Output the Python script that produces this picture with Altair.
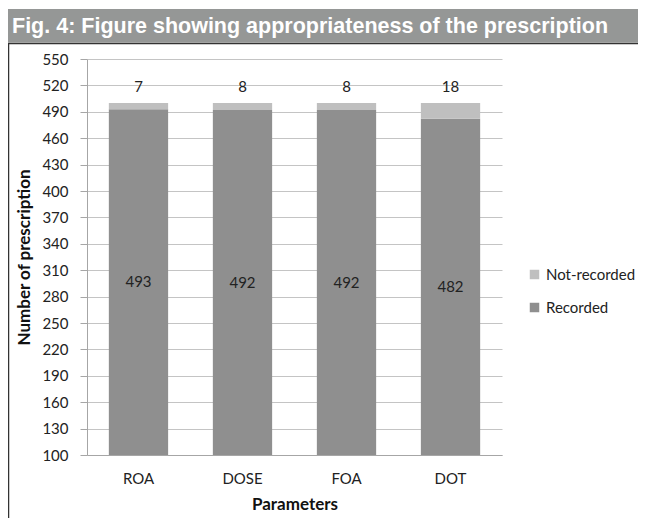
import altair as alt
import pandas as pd

params = ["ROA", "DOSE", "FOA", "DOT"]
recorded = [493, 492, 492, 482]
not_recorded = [7, 8, 8, 18]
y_ticks = list(range(100, 551, 30))
title_text = "Fig. 4: Figure showing appropriateness of the prescription"

rows = []
for p, r, n in zip(params, recorded, not_recorded):
    rows.append({"Parameter": p, "Status": "Recorded", "Count": r, "ord": 0})
    rows.append({"Parameter": p, "Status": "Not-recorded", "Count": n, "ord": 1})
df = pd.DataFrame(rows)

lab_rec = pd.DataFrame({"Parameter": params, "Count": recorded,
                        "mid": [(100 + r) / 2 for r in recorded]})
lab_not = pd.DataFrame({"Parameter": params, "Count": not_recorded,
                        "total": [r + n for r, n in zip(recorded, not_recorded)]})

FONT = "Lato"
W, H = 415, 396

xscale = alt.Scale(paddingInner=0.43, paddingOuter=0.21)
xaxis = alt.Axis(title="Parameters", labelAngle=0, ticks=False,
                 labelPadding=16, titlePadding=10,
                 domainColor="#a6a6a6", labelFontSize=15,
                 labelColor="#222222", titleFontSize=17,
                 titleFontWeight="bold", titleColor="#111111",
                 labelFont=FONT, titleFont=FONT)
yscale = alt.Scale(domain=[100, 550], nice=False, zero=False)
yaxis = alt.Axis(title="Number of prescription", values=y_ticks,
                 labelOverlap=False, labelBound=False,
                 tickSize=7, tickColor="#a6a6a6", domainColor="#a6a6a6",
                 gridColor="#c4c4c4", labelPadding=12, titlePadding=8,
                 labelFontSize=15, labelColor="#222222",
                 titleFontSize=17, titleFontWeight="bold",
                 titleColor="#111111", labelFont=FONT, titleFont=FONT)

bars = alt.Chart(df).mark_bar(clip=True).encode(
    x=alt.X("Parameter:N", sort=params, scale=xscale, axis=xaxis),
    y=alt.Y("Count:Q", stack="zero", scale=yscale, axis=yaxis),
    color=alt.Color("Status:N",
                    scale=alt.Scale(domain=["Not-recorded", "Recorded"],
                                    range=["#bfbfbf", "#8f8f8f"]),
                    legend=alt.Legend(title=None, orient="none", legendX=440,
                                      legendY=208, symbolType="square",
                                      symbolSize=90, symbolStrokeWidth=0,
                                      labelFontSize=15, labelFont=FONT,
                                      labelColor="#222222", rowPadding=17,
                                      padding=0, symbolOffset=0, labelOffset=4)),
    order=alt.Order("ord:Q"),
)

t_rec = alt.Chart(lab_rec).mark_text(fontSize=15, font=FONT, color="#222222").encode(
    x=alt.X("Parameter:N", sort=params, scale=xscale, axis=xaxis),
    y=alt.Y("mid:Q", scale=yscale, axis=yaxis),
    text="Count:Q")
t_not = alt.Chart(lab_not).mark_text(fontSize=15, font=FONT, color="#222222", dy=-16).encode(
    x=alt.X("Parameter:N", sort=params, scale=xscale, axis=xaxis),
    y=alt.Y("total:Q", scale=yscale, axis=yaxis),
    text="Count:Q")

one = pd.DataFrame({"t": [title_text]})
banner = alt.Chart(one).mark_rect(color="#959796", clip=False).encode(
    x=alt.value(-79), x2=alt.value(W + 136), y=alt.value(-50), y2=alt.value(-16.5))
banner_text = alt.Chart(one).mark_text(
    align="left", baseline="alphabetic", color="white", fontSize=21.5,
    fontWeight="bold", font="Liberation Sans, Arial, sans-serif"
).encode(x=alt.value(-75), y=alt.value(-26), text="t:N")
top_line = alt.Chart(one).mark_rule(color="#333333", strokeWidth=1.5).encode(
    x=alt.value(-79), x2=alt.value(W + 136), y=alt.value(-15.5))
left_line = alt.Chart(one).mark_rule(color="#333333", strokeWidth=1.5).encode(
    x=alt.value(-78.5), y=alt.value(-16), y2=alt.value(H + 70))

chart = alt.layer(bars, t_rec, t_not, banner, banner_text, top_line, left_line).properties(
    width=W, height=H, background="white",
    autosize=alt.AutoSizeParams(type="none"),
    padding={"left": 79, "top": 51, "right": 136, "bottom": 63},
).configure_view(strokeWidth=0)

chart.save("out.html", embed_options={"renderer": "svg", "actions": False})
